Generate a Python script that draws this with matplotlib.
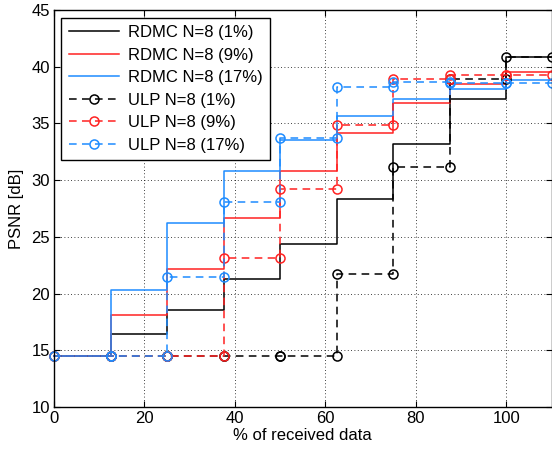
import matplotlib
matplotlib.use("Agg")
import matplotlib.pyplot as plt
import numpy as np

plt.rcParams['font.family'] = ['Liberation Sans', 'DejaVu Sans']

# step edges (% of received data)
edges = [0, 12.5, 25, 37.5, 50, 62.5, 75, 87.5, 100, 110]

# PSNR per interval [dB]
rdmc_1 = [14.5, 16.4, 18.55, 21.25, 24.4, 28.3, 33.2, 37.15, 40.9]
rdmc_9 = [14.5, 18.1, 22.2, 26.7, 30.8, 34.2, 36.8, 38.45, 39.55]
rdmc_17 = [14.5, 20.3, 26.25, 30.8, 33.5, 35.7, 37.15, 38.0, 38.8]
ulp_1 = [14.5, 14.5, 14.5, 14.5, 14.5, 21.7, 31.2, 38.95, 40.9]
ulp_9 = [14.5, 14.5, 14.5, 23.1, 29.2, 34.9, 38.95, 39.3, 39.3]
ulp_17 = [14.5, 14.5, 21.5, 28.1, 33.75, 38.25, 38.65, 38.6, 38.6]

labels = ["RDMC N=8 (1%)", "RDMC N=8 (9%)", "RDMC N=8 (17%)",
          "ULP N=8 (1%)", "ULP N=8 (9%)", "ULP N=8 (17%)"]

black = "#000000"
red = "#ff2222"
blue = "#1e8cff"


def steps(vals):
    # each interval drawn from its left edge to its right edge
    xs = np.column_stack([edges[:-1], edges[1:]]).ravel()
    ys = np.repeat(vals, 2)
    return xs, ys


fig = plt.figure(figsize=(5.52, 4.49), dpi=100)
ax = fig.add_axes([0.0978, 0.0935, 0.9015, 0.8842])

for vals, c, lab in zip([rdmc_1, rdmc_9, rdmc_17], [black, red, blue], labels[:3]):
    xs, ys = steps(vals)
    ax.plot(xs, ys, color=c, lw=1.1, label=lab, clip_on=False)

for vals, c, lab in zip([ulp_1, ulp_9, ulp_17], [black, red, blue], labels[3:]):
    xs, ys = steps(vals)
    ax.plot(xs, ys, color=c, lw=1.1, ls=(0, (5.0, 3.5)), marker='o', ms=6.5,
            mfc='none', mew=1.1, label=lab, clip_on=False)

ax.set_xlim(0, 110)
ax.set_ylim(10, 45)
ax.set_xticks(np.arange(0, 101, 20))
ax.set_yticks(np.arange(10, 46, 5))
ax.tick_params(direction='in', top=True, right=True, length=4, labelsize=12,
               width=0.8, pad=3)
ax.grid(True, ls=(0, (1, 3)), color='black', lw=0.6)
for s in ax.spines.values():
    s.set_linewidth(1.0)
ax.set_xlabel('% of received data', fontsize=12, labelpad=1)
ax.set_ylabel('PSNR [dB]', fontsize=12, labelpad=5)

leg = ax.legend(loc='upper left', fontsize=12, handlelength=3.0, labelspacing=0.45,
                handletextpad=0.55, fancybox=False, framealpha=1, edgecolor='black',
                borderaxespad=0.45, borderpad=0.45)
leg.get_frame().set_linewidth(1.0)

fig.savefig('out.png', dpi=100)
